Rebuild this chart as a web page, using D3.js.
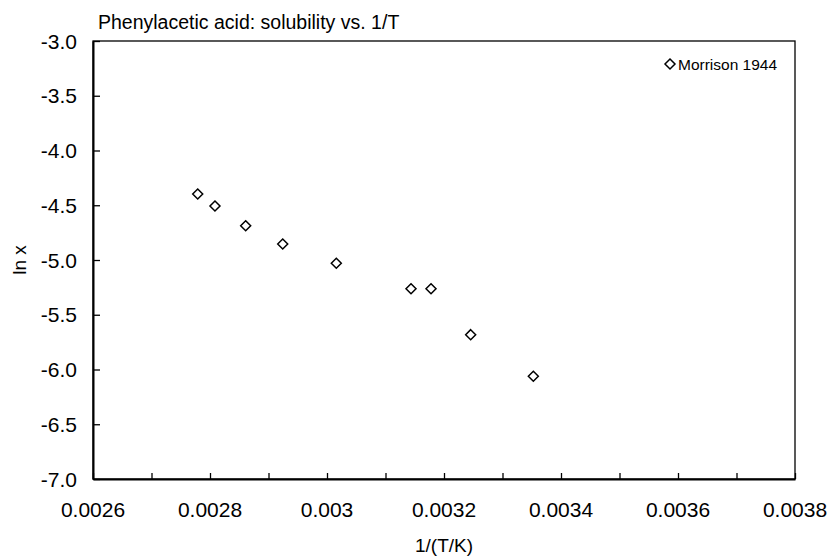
<!DOCTYPE html>
<html>
<head>
<meta charset="utf-8">
<script src="https://cdn.jsdelivr.net/npm/d3@7/dist/d3.min.js"></script>
<style>
  html, body { margin: 0; padding: 0; background: #fff; }
  text { font-family: "Liberation Sans", Arial, sans-serif; fill: #000; }
</style>
</head>
<body>
<svg id="chart" width="832" height="559"></svg>
<script>
// Data
const invT = [0.002779, 0.0028085, 0.002861, 0.0029243, 0.0030159, 0.0031436, 0.0031778, 0.0032456, 0.0033527];
const lnX  = [-4.397, -4.507, -4.687, -4.854, -5.030, -5.262, -5.262, -5.682, -6.062];
const seriesName = "Morrison 1944";
const xTicks = [0.0026, 0.0027, 0.0028, 0.0029, 0.003, 0.0031, 0.0032, 0.0033, 0.0034, 0.0035, 0.0036, 0.0037, 0.0038];
const xLabelTicks = [0.0026, 0.0028, 0.003, 0.0032, 0.0034, 0.0036, 0.0038];
const yTicks = [-7.0, -6.5, -6.0, -5.5, -5.0, -4.5, -4.0, -3.5, -3.0];
const titleText = "Phenylacetic acid: solubility vs. 1/T";
const xTitle = "1/(T/K)";
const yTitle = "ln x";

(function () {
const svg = d3.select("#chart");
const pLeft = 93, pRight = 795, pTop = 41, pBottom = 479;

const x = d3.scaleLinear().domain([0.0026, 0.0038]).range([pLeft, pRight]);
const y = d3.scaleLinear().domain([-7, -3]).range([pBottom, pTop]);

// Plot frame
svg.append("rect")
  .attr("x", pLeft).attr("y", pTop)
  .attr("width", pRight - pLeft).attr("height", pBottom - pTop)
  .attr("fill", "none").attr("stroke", "#000").attr("stroke-width", 1.3);

// X axis (ticks inward)
const xAxis = d3.axisBottom(x).tickValues(xTicks).tickSizeInner(-6).tickSizeOuter(0).tickFormat("");
const gx = svg.append("g").attr("transform", `translate(0,${pBottom})`).call(xAxis);
gx.select(".domain").attr("stroke", "#000").attr("stroke-width", 2);
gx.selectAll(".tick line").attr("stroke", "#000").attr("stroke-width", 1.3);

svg.append("g").selectAll("text").data(xLabelTicks).join("text")
  .attr("x", d => x(d)).attr("y", 517)
  .attr("text-anchor", "middle")
  .style("font-size", "21px")
  .text(d => String(+d.toFixed(4)));

// Y axis (ticks inward)
const yAxis = d3.axisLeft(y).tickValues(yTicks).tickSizeInner(-7).tickSizeOuter(0).tickFormat("");
const gy = svg.append("g").attr("transform", `translate(${pLeft},0)`).call(yAxis);
gy.select(".domain").attr("stroke", "#000").attr("stroke-width", 2);
gy.selectAll(".tick line").attr("stroke", "#000").attr("stroke-width", 1.3);

svg.append("g").selectAll("text").data(yTicks).join("text")
  .attr("x", 77).attr("y", d => y(d))
  .attr("dy", "0.36em")
  .attr("text-anchor", "end")
  .style("font-size", "21px")
  .text(d => d.toFixed(1));

// Title
svg.append("text").attr("x", 98).attr("y", 29)
  .style("font-size", "19.5px").text(titleText);

// Axis titles
svg.append("text").attr("x", (pLeft + pRight) / 2).attr("y", 552)
  .attr("text-anchor", "middle").style("font-size", "19px").text(xTitle);
svg.append("text")
  .attr("transform", `translate(26,${(pTop + pBottom) / 2}) rotate(-90)`)
  .attr("text-anchor", "middle").style("font-size", "19px").text(yTitle);

// Markers
const diamond = (cx, cy, r) => `M${cx},${cy - r}L${cx + r},${cy}L${cx},${cy + r}L${cx - r},${cy}Z`;
const pts = invT.map((v, i) => ({ x: v, y: lnX[i] }));
svg.append("g").selectAll("path").data(pts).join("path")
  .attr("d", d => diamond(x(d.x), y(d.y), 5))
  .attr("fill", "#fff").attr("stroke", "#000").attr("stroke-width", 1.5);

// Legend
svg.append("path").attr("d", diamond(670, 64, 5))
  .attr("fill", "#fff").attr("stroke", "#000").attr("stroke-width", 1.5);
svg.append("text").attr("x", 678).attr("y", 69.5)
  .style("font-size", "15.5px").text(seriesName);
})();
</script>
</body>
</html>
